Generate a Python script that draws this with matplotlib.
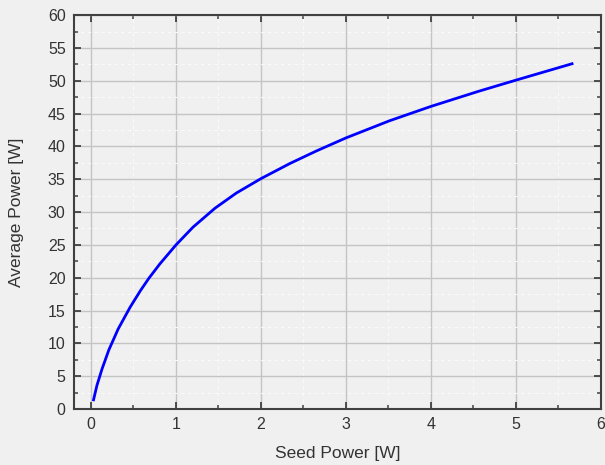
import matplotlib
matplotlib.use("Agg")
import matplotlib.pyplot as plt
from matplotlib.ticker import MultipleLocator

# 读图得到的数据点
seed_power = [0.03, 0.07, 0.13, 0.21, 0.32, 0.46, 0.58, 0.68, 0.81, 1.0,
              1.2, 1.46, 1.71, 2.0, 2.34, 2.65, 3.0, 3.51, 4.0, 4.56,
              5.0, 5.66]
avg_power = [1.4, 3.6, 6.1, 9.0, 12.2, 15.5, 18.0, 19.9, 22.1, 25.0,
             27.7, 30.6, 32.9, 35.1, 37.4, 39.3, 41.3, 43.9, 46.1, 48.4,
             50.1, 52.6]

plt.rcParams["font.family"] = ["Liberation Sans", "DejaVu Sans"]

BG = "#f0f0f0"
fig = plt.figure(figsize=(6.05, 4.65), dpi=100, facecolor=BG)
ax = fig.add_axes([0.1223, 0.1204, 0.871, 0.847])
ax.set_facecolor(BG)

ax.plot(seed_power, avg_power, color="#0000ff", linewidth=2,
        solid_joinstyle="round")

ax.set_xlim(-0.2, 6)
ax.set_ylim(0, 60)
ax.xaxis.set_major_locator(MultipleLocator(1))
ax.xaxis.set_minor_locator(MultipleLocator(0.5))
ax.yaxis.set_major_locator(MultipleLocator(5))
ax.yaxis.set_minor_locator(MultipleLocator(2.5))

ax.grid(True, which="major", color="#c4c4c4", linewidth=1)
ax.grid(True, which="minor", color="#fafafa", linewidth=0.8, linestyle=(0, (3, 3)))
ax.set_axisbelow(True)

ax.tick_params(which="both", direction="in", top=True, right=True,
               colors="#404040", labelcolor="#333333", labelsize=11.5)
ax.tick_params(which="major", length=5, width=1.3, pad=6)
ax.tick_params(which="minor", length=3, width=1.1)
for s in ax.spines.values():
    s.set_color("#404040")
    s.set_linewidth(1.5)

ax.set_xlabel("Seed Power [W]", fontsize=12.5, color="#333333", labelpad=10)
ax.set_ylabel("Average Power [W]", fontsize=12.5, color="#333333", labelpad=17)

fig.savefig("out.png", dpi=100, facecolor=BG)
